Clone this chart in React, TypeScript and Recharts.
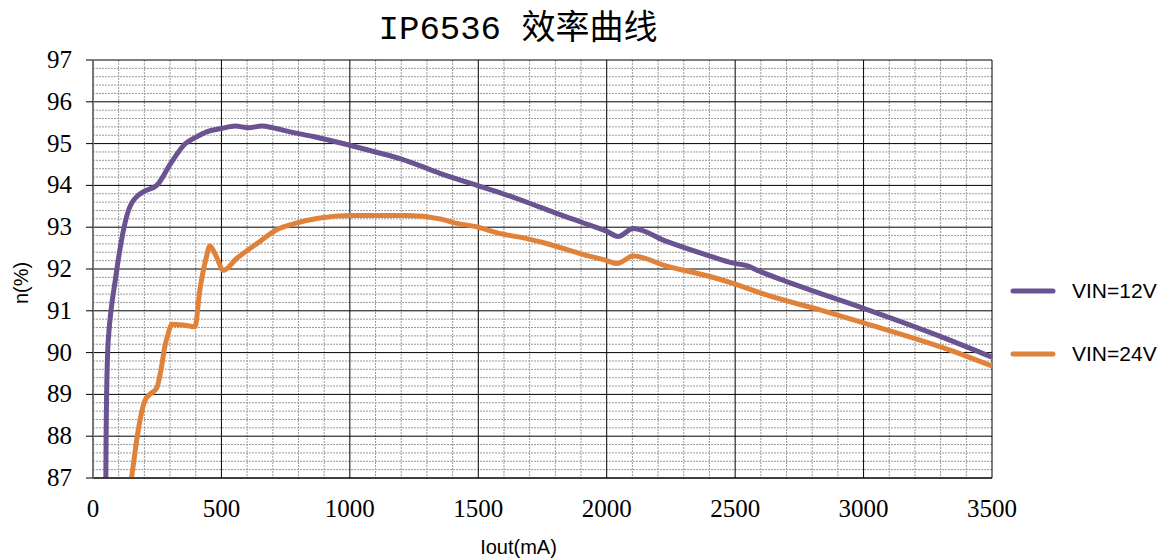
import React from "react";
import { LineChart, Line, XAxis, YAxis, CartesianGrid, Legend } from "recharts";

// VIN=12V curve: output current (mA) and efficiency (%)
const iout12 = [
  50, 51, 53, 57, 62, 70, 86, 103, 121, 138, 150, 170, 200, 248, 300, 358, 400, 442, 500, 553, 605,
  657, 700, 767, 858, 1000, 1100, 1201, 1351, 1500, 1597, 1740, 1818, 1896, 2000, 2045, 2103, 2233,
  2402, 2493, 2545, 2597, 2700, 2791, 3000, 3336, 3500,
];
const eff12 = [
  87, 88, 89, 90, 90.5, 91, 91.7, 92.4, 93.0, 93.4, 93.57, 93.73, 93.86, 94.0, 94.5, 94.99, 95.15,
  95.28, 95.36, 95.42, 95.38, 95.42, 95.38, 95.28, 95.17, 94.96, 94.8, 94.63, 94.29, 93.99, 93.8,
  93.48, 93.3, 93.13, 92.9, 92.78, 92.97, 92.66, 92.31, 92.14, 92.08, 91.94, 91.7, 91.5, 91.06,
  90.3, 89.89,
];

// VIN=24V curve
const iout24 = [
  150, 160, 170, 185, 202, 225, 248, 265, 280, 295, 306, 350, 397, 416, 440, 455, 480, 507, 559,
  650, 715, 780, 883, 1000, 1221, 1351, 1403, 1500, 1571, 1701, 1766, 1896, 2000, 2041, 2103, 2233,
  2402, 2500, 2622, 2830, 3000, 3336, 3500,
];
const eff24 = [
  87, 87.45, 87.9, 88.45, 88.85, 89.02, 89.15, 89.6, 90.15, 90.5, 90.68, 90.66, 90.62, 91.5, 92.25,
  92.55, 92.3, 91.97, 92.25, 92.66, 92.94, 93.08, 93.22, 93.28, 93.28, 93.2, 93.11, 93.0, 92.87,
  92.71, 92.61, 92.37, 92.2, 92.13, 92.31, 92.07, 91.82, 91.64, 91.38, 91.02, 90.71, 90.06, 89.68,
];

const xTicks = [0, 500, 1000, 1500, 2000, 2500, 3000, 3500];
const yTicks = [87, 88, 89, 90, 91, 92, 93, 94, 95, 96, 97];

const xMinor = [
  100, 200, 300, 400, 600, 700, 800, 900, 1100, 1200, 1300, 1400, 1600, 1700, 1800, 1900, 2100,
  2200, 2300, 2400, 2600, 2700, 2800, 2900, 3100, 3200, 3300, 3400,
];
const yMinor = [
  87.2, 87.4, 87.6, 87.8, 88.2, 88.4, 88.6, 88.8, 89.2, 89.4, 89.6, 89.8, 90.2, 90.4, 90.6, 90.8,
  91.2, 91.4, 91.6, 91.8, 92.2, 92.4, 92.6, 92.8, 93.2, 93.4, 93.6, 93.8, 94.2, 94.4, 94.6, 94.8,
  95.2, 95.4, 95.6, 95.8, 96.2, 96.4, 96.6, 96.8,
];

const data12 = iout12.map((i, k) => ({ i, eff: eff12[k] }));
const data24 = iout24.map((i, k) => ({ i, eff: eff24[k] }));

const PURPLE = "#6a5390";
const ORANGE = "#e0823a";
const SERIF = "Liberation Serif";
const SANS = "Liberation Sans";

function XTick({ x, y, payload }: any) {
  return (
    <text x={x} y={y + 18} textAnchor="middle" fontFamily={SERIF} fontSize={25} fill="#000">
      {payload.value}
    </text>
  );
}

function YTick({ x, y, payload }: any) {
  return (
    <text x={x} y={y} dy={8} textAnchor="end" fontFamily={SERIF} fontSize={25} fill="#000">
      {payload.value}
    </text>
  );
}

function YTitle({ viewBox }: any) {
  const cx = viewBox.x + 21;
  const cy = viewBox.y + viewBox.height / 2 + 14;
  return (
    <text
      x={cx}
      y={cy}
      transform={`rotate(-90, ${cx}, ${cy})`}
      textAnchor="middle"
      dominantBaseline="central"
      fontFamily={SANS}
      fontSize={20}
      fill="#000"
    >
      n(%)
    </text>
  );
}

function renderLegend({ payload }: any) {
  return (
    <div>
      {(payload || []).map((p: any) => (
        <div key={p.value} style={{ display: "flex", alignItems: "center", height: 63 }}>
          <svg width={50} height={10}>
            <line x1={5} x2={45} y1={5} y2={5} stroke={p.color} strokeWidth={5} strokeLinecap="round" />
          </svg>
          <span style={{ marginLeft: 14, fontSize: 21, fontFamily: SANS, color: "#000" }}>{p.value}</span>
        </div>
      ))}
    </div>
  );
}

export default function App() {
  return (
    <div style={{ position: "absolute", left: 0, top: 0, width: 1160, height: 559, background: "#fff" }}>
      <div
        style={{
          position: "absolute",
          left: 0,
          width: 1036,
          top: 8,
          textAlign: "center",
          fontSize: 34,
          lineHeight: "44px",
          fontFamily: "'Liberation Mono', 'Noto Sans CJK SC', monospace",
          color: "#000",
        }}
      >
        IP6536 效率曲线
      </div>
      <LineChart width={1160} height={559} margin={{ top: 60, right: 168, bottom: 11, left: 0 }}>
        <CartesianGrid
          horizontalValues={yMinor}
          verticalValues={xMinor}
          stroke="#9a9a9a"
          strokeDasharray="2 1"
          strokeWidth={1}
        />
        <CartesianGrid horizontalValues={yTicks} verticalValues={xTicks} stroke="#000" strokeWidth={1} />
        <XAxis
          type="number"
          dataKey="i"
          domain={[0, 3500]}
          ticks={xTicks}
          interval={0}
          height={70}
          tickSize={0}
          tickMargin={21}
          axisLine={{ stroke: "#000" }}
          tick={<XTick />}
          label={{
            value: "Iout(mA)",
            position: "insideBottom",
            offset: -6,
            dx: -24,
            style: { fontFamily: SANS, fontSize: 20, fill: "#000" },
          }}
        />
        <YAxis
          type="number"
          domain={[87, 97]}
          ticks={yTicks}
          interval={0}
          width={93}
          tickSize={7}
          tickMargin={14}
          axisLine={{ stroke: "#777", strokeWidth: 2 }}
          tickLine={{ stroke: "#000" }}
          tick={<YTick />}
          label={<YTitle />}
        />
        <Legend
          layout="vertical"
          align="center"
          verticalAlign="middle"
          wrapperStyle={{ left: 1008, top: 259, width: 152 }}
          content={renderLegend}
        />
        <Line
          data={data12}
          dataKey="eff"
          name="VIN=12V"
          type="monotone"
          stroke={PURPLE}
          strokeWidth={5}
          dot={false}
          isAnimationActive={false}
        />
        <Line
          data={data24}
          dataKey="eff"
          name="VIN=24V"
          type="monotone"
          stroke={ORANGE}
          strokeWidth={5}
          dot={false}
          isAnimationActive={false}
        />
      </LineChart>
    </div>
  );
}
